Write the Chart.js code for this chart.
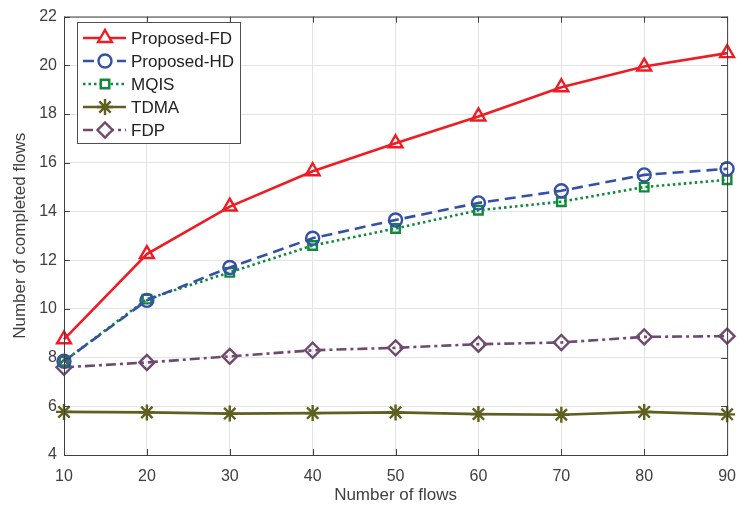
<!DOCTYPE html>
<html lang="en">
<head>
    <meta charset="UTF-8">
    <title>Completed flows vs number of flows</title>
    <script src="https://cdn.jsdelivr.net/npm/chart.js"></script>
    <style>
      html, body { margin: 0; padding: 0; background: #fff; }
      #wrap { width: 748px; height: 512px; }
    </style>
</head>
<body>
    <div id="wrap"><canvas id="flowChart"></canvas></div>
    <script>
        const flows = [10, 20, 30, 40, 50, 60, 70, 80, 90];
        const proposedFD = [8.75, 12.25, 14.2, 15.65, 16.8, 17.9, 19.1, 19.95, 20.5];
        const proposedHD = [7.85, 10.35, 11.7, 12.9, 13.65, 14.35, 14.85, 15.5, 15.75];
        const mqis = [7.85, 10.4, 11.5, 12.6, 13.3, 14.05, 14.4, 15.0, 15.3];
        const tdma = [5.77, 5.75, 5.7, 5.72, 5.75, 5.68, 5.65, 5.77, 5.67];
        const fdp = [7.6, 7.8, 8.05, 8.3, 8.4, 8.55, 8.62, 8.85, 8.88];
        const yTicks = [4, 6, 8, 10, 12, 14, 16, 18, 20, 22];

        const axisColor = '#404040';
        const font = 'Liberation Sans, Arial, sans-serif';

        function series(label, data, color, dash, style, radius) {
            return {
                label: label,
                data: flows.map((x, i) => ({ x: x, y: data[i] })),
                borderColor: color,
                backgroundColor: 'transparent',
                borderWidth: 2.6,
                borderDash: dash,
                pointStyle: style,
                pointRadius: radius,
                pointBorderWidth: 2.4,
                pointBorderColor: color,
                pointBackgroundColor: 'transparent',
                tension: 0,
                clip: false
            };
        }

        const datasets = [
            series('Proposed-FD', proposedFD, '#ee1c24', [], 'triangle', 8),
            series('Proposed-HD', proposedHD, '#3451a6', [11, 6], 'circle', 6.5),
            series('MQIS', mqis, '#0f8a3c', [2.5, 3], 'rect', 6),
            series('TDMA', tdma, '#5f5f1f', [], 'star', 8),
            series('FDP', fdp, '#6f4a6f', [10, 4, 3, 4], 'rectRot', 7.5)
        ];

        // box, inward ticks, and legend drawn on top
        const frame = {
            id: 'frame',
            afterDatasetsDraw(chart) {
                const c = chart.ctx, a = chart.chartArea;
                const xs = chart.scales.x, ys = chart.scales.y;
                c.save();
                c.strokeStyle = axisColor;
                c.lineWidth = 1;
                c.strokeRect(a.left + 0.5, a.top + 0.5, a.right - a.left, a.bottom - a.top);
                c.beginPath();
                flows.forEach(v => {
                    const px = Math.round(xs.getPixelForValue(v)) + 0.5;
                    c.moveTo(px, a.bottom); c.lineTo(px, a.bottom - 6);
                    c.moveTo(px, a.top); c.lineTo(px, a.top + 6);
                });
                yTicks.forEach(v => {
                    const py = Math.round(ys.getPixelForValue(v)) + 0.5;
                    c.moveTo(a.left, py); c.lineTo(a.left + 6, py);
                    c.moveTo(a.right, py); c.lineTo(a.right - 6, py);
                });
                c.stroke();

                // legend
                const bx = 77, by = 22, bw = 163, bh = 121;
                c.fillStyle = '#fff';
                c.fillRect(bx, by, bw, bh);
                c.strokeStyle = '#505050';
                c.strokeRect(bx + 0.5, by + 0.5, bw, bh);
                c.font = '17px ' + font;
                c.textBaseline = 'middle';
                datasets.forEach((ds, i) => {
                    const y = by + 16 + i * 23;
                    c.strokeStyle = ds.borderColor;
                    c.lineWidth = ds.borderWidth;
                    c.setLineDash(ds.borderDash);
                    c.beginPath();
                    c.moveTo(83, y); c.lineTo(126, y);
                    c.stroke();
                    c.setLineDash([]);
                    c.lineWidth = ds.pointBorderWidth;
                    c.fillStyle = '#fff';
                    Chart.helpers.drawPoint(c, {
                        pointStyle: ds.pointStyle,
                        radius: ds.pointRadius,
                        rotation: 0,
                        borderWidth: ds.pointBorderWidth
                    }, 105, y);
                    c.fillStyle = '#222';
                    c.fillText(ds.label, 131, y + 1);
                });
                c.restore();
            }
        };

        new Chart(document.getElementById('flowChart'), {
            type: 'line',
            data: { datasets: datasets },
            options: {
                responsive: true,
                maintainAspectRatio: false,
                animation: false,
                layout: { padding: { top: 12, right: 20, left: 0, bottom: 0 } },
                plugins: { legend: { display: false }, tooltip: { enabled: false } },
                scales: {
                    x: {
                        type: 'linear',
                        min: 10, max: 90,
                        afterBuildTicks: s => { s.ticks = flows.map(v => ({ value: v })); },
                        afterFit: s => { s.height = 57; },
                        grid: { color: '#e3e3e3', drawTicks: false },
                        border: { display: false },
                        ticks: { color: axisColor, padding: 12, font: { family: font, size: 16 } },
                        title: {
                            display: true, text: 'Number of flows', color: axisColor,
                            font: { family: font, size: 17 }, padding: { top: 0, bottom: 6 }
                        }
                    },
                    y: {
                        min: 4, max: 22,
                        afterBuildTicks: s => { s.ticks = yTicks.map(v => ({ value: v })); },
                        afterFit: s => { s.width = 64; },
                        grid: { color: '#e3e3e3', drawTicks: false },
                        border: { display: false },
                        ticks: { color: axisColor, padding: 7, font: { family: font, size: 16 } },
                        title: {
                            display: true, text: 'Number of completed flows', color: axisColor,
                            font: { family: font, size: 17 }, padding: { top: 10, bottom: 0 }
                        }
                    }
                }
            },
            plugins: [frame]
        });
    </script>
</body>
</html>
